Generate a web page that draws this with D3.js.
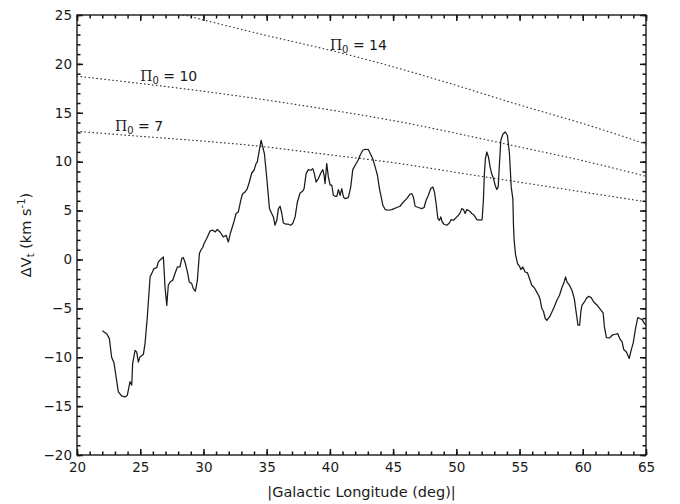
<!DOCTYPE html>
<html>
<head>
<meta charset="utf-8">
<script src="https://cdn.jsdelivr.net/npm/d3@7"></script>
<style>
  html, body { margin: 0; padding: 0; background: #fff; }
  svg text { font-family: "DejaVu Sans", sans-serif; fill: #1a1a1a; }
</style>
</head>
<body>
<div id="page"></div>
<script>
(function() {

  "use strict";

  // measured profile: |galactic longitude| (deg) and delta V_t (km/s)
  var lon = [
    22.0, 22.35, 22.56, 22.74, 22.93, 23.09, 23.27, 23.53, 23.8, 23.98,
    24.19, 24.33, 24.4, 24.59, 24.72, 24.85, 24.98, 25.25, 25.38, 25.56,
    25.78, 25.91, 26.09, 26.31, 26.43, 26.62, 26.83, 26.96, 27.1, 27.22,
    27.36, 27.57, 27.75, 27.94, 28.15, 28.28, 28.4, 28.54, 28.73, 28.88,
    29.07, 29.2, 29.36, 29.52, 29.68, 29.79, 29.94, 30.05, 30.26, 30.52,
    30.74, 30.92, 31.1, 31.31, 31.57, 31.79, 31.97, 32.16, 32.37, 32.58,
    32.76, 32.95, 33.08, 33.29, 33.47, 33.63, 33.82, 34.0, 34.16, 34.26,
    34.42, 34.56, 34.69, 34.82, 34.95, 35.06, 35.22, 35.4, 35.53, 35.66,
    35.8, 35.93, 36.06, 36.2, 36.32, 36.53, 36.72, 36.9, 37.06, 37.25,
    37.43, 37.64, 37.86, 37.96, 38.12, 38.3, 38.49, 38.65, 38.77, 38.91,
    39.09, 39.28, 39.44, 39.54, 39.62, 39.75, 39.88, 40.02, 40.15, 40.28,
    40.41, 40.55, 40.67, 40.81, 40.94, 41.07, 41.2, 41.46, 41.65, 41.81,
    42.0, 42.25, 42.39, 42.6, 42.78, 43.04, 43.2, 43.39, 43.58, 43.76,
    43.92, 44.03, 44.19, 44.37, 44.63, 44.9, 45.08, 45.29, 45.55, 45.81,
    46.08, 46.34, 46.47, 46.6, 46.74, 47.0, 47.27, 47.45, 47.61, 47.79,
    47.98, 48.14, 48.27, 48.4, 48.54, 48.66, 48.77, 48.88, 49.03, 49.25,
    49.45, 49.59, 49.77, 49.98, 50.17, 50.3, 50.43, 50.56, 50.7, 50.83,
    51.04, 51.22, 51.41, 51.62, 51.88, 52.04, 52.14, 52.22, 52.3, 52.41,
    52.54, 52.67, 52.81, 52.94, 53.07, 53.2, 53.31, 53.41, 53.52, 53.68,
    53.86, 54.04, 54.2, 54.34, 54.47, 54.52, 54.57, 54.68, 54.84, 55.0,
    55.1, 55.26, 55.44, 55.63, 55.78, 55.97, 56.15, 56.31, 56.5, 56.63,
    56.76, 56.89, 57.03, 57.16, 57.37, 57.56, 57.74, 57.95, 58.16, 58.35,
    58.53, 58.64, 58.75, 58.95, 59.14, 59.33, 59.49, 59.62, 59.75, 59.86,
    59.94, 60.13, 60.28, 60.47, 60.66, 60.87, 61.14, 61.34, 61.61, 61.71,
    61.87, 62.13, 62.32, 62.58, 62.76, 62.92, 63.11, 63.24, 63.45, 63.67,
    63.83, 63.99, 64.17, 64.35, 64.51, 64.7, 64.88, 65.0
  ];

  var dv = [
    -7.3, -7.6, -8.1, -10.0, -10.6, -12.0, -13.55, -13.96, -14.06, -13.9,
    -12.5, -12.86, -10.65, -9.3, -9.46, -10.5, -9.97, -9.7, -8.6, -5.9,
    -1.8, -1.44, -0.93, -0.83, -0.26, 0.0, 0.26, -2.8, -4.7, -2.64,
    -2.3, -2.13, -1.44, -0.77, -0.77, 0.09, 0.2, -0.26, -1.28, -2.3,
    -2.47, -2.98, -3.25, -2.13, 0.6, 0.94, 1.22, 1.63, 2.14, 2.92,
    2.99, 2.81, 3.06, 2.81, 2.3, 2.47, 1.79, 2.81, 3.67, 4.7,
    4.86, 6.05, 6.67, 6.9, 7.25, 7.92, 8.84, 9.12, 9.8, 9.97,
    11.17, 12.19, 11.5, 10.83, 9.12, 7.59, 5.2, 4.7, 4.35, 3.5,
    4.0, 5.2, 5.44, 4.7, 3.73, 3.6, 3.6, 3.5, 3.67, 4.35,
    5.88, 6.8, 7.0, 7.25, 8.78, 9.19, 9.12, 9.29, 8.78, 7.92,
    8.27, 8.84, 9.19, 8.61, 7.76, 9.8, 8.44, 7.59, 7.59, 6.56,
    6.46, 6.46, 7.15, 6.56, 7.25, 6.39, 6.22, 6.32, 7.42, 9.19,
    9.63, 10.2, 10.65, 11.17, 11.27, 11.24, 10.8, 10.3, 9.46, 8.61,
    7.25, 6.56, 5.54, 5.1, 5.03, 5.1, 5.2, 5.31, 5.44, 5.88,
    6.22, 6.67, 6.74, 6.39, 5.44, 5.31, 5.2, 5.31, 6.05, 6.56,
    7.25, 7.42, 6.9, 5.72, 4.18, 4.01, 4.35, 3.83, 3.6, 3.5,
    3.73, 4.08, 4.01, 4.28, 4.52, 4.76, 5.2, 5.1, 4.7, 5.1,
    4.96, 4.7, 4.52, 4.08, 4.01, 4.08, 6.05, 8.78, 10.32, 10.99,
    10.48, 9.46, 8.71, 8.27, 7.59, 7.15, 7.42, 9.8, 12.19, 12.8,
    13.04, 12.7, 10.83, 7.42, 6.2, 3.5, 2.0, 0.5, -0.42, -0.7,
    -1.03, -0.77, -1.28, -1.38, -1.95, -2.64, -2.87, -3.22, -3.66, -4.1,
    -5.02, -5.3, -6.04, -6.22, -5.88, -5.37, -4.86, -4.17, -3.66, -2.87,
    -2.3, -1.79, -2.3, -2.64, -3.15, -4.0, -5.53, -6.73, -6.73, -5.2,
    -4.68, -4.35, -4.0, -3.77, -3.9, -4.35, -4.68, -5.02, -5.47, -6.9,
    -7.99, -8.03, -7.75, -7.65, -7.58, -8.09, -8.44, -9.21, -9.46, -10.13,
    -9.28, -8.54, -7.07, -5.94, -6.04, -6.15, -6.56, -6.7
  ];

  // model curves for three values of Pi_0
  var model_lon = [ 20, 25, 30, 35, 40, 45, 50, 55, 60, 65 ];
  var pi7  = [ 13.1, 12.6, 12.1, 11.5, 10.7, 9.9, 8.9, 7.9, 6.9, 5.9 ];
  var pi10 = [ 18.75, 18.0, 17.2, 16.3, 15.3, 14.2, 12.9, 11.5, 10.1, 8.5 ];
  var pi14 = [ 27.0, 26.0, 24.5, 22.9, 21.4, 19.7, 17.8, 15.8, 13.9, 11.8 ];

  var pi_names = [ "7", "10", "14" ];
  var label_lon = [ 23.0, 25.0, 40.0 ];
  var label_dv = [ 13.1, 18.3, 21.4 ];

  var x_ticks = [ 20, 25, 30, 35, 40, 45, 50, 55, 60, 65 ];
  var y_ticks = [ -20, -15, -10, -5, 0, 5, 10, 15, 20, 25 ];

  /* * * * * * * * * * * * * * * * * * * */

  var w = 680,
    h = 504,
    left = 77,
    right = 646,
    top = 15,
    bottom = 455;

  var svg = d3.select( "#page" ).append( "svg" )
    .attr( "width", w )
    .attr( "height", h );

  svg.append( "rect" )
    .attr( "width", w )
    .attr( "height", h )
    .attr( "fill", "#fff" );

  var x = d3.scaleLinear().domain( [ 20, 65 ] ).range( [ left, right ] );
  var y = d3.scaleLinear().domain( [ -20, 25 ] ).range( [ bottom, top ] );

  svg.append( "clipPath" )
    .attr( "id", "plot-clip" )
    .append( "rect" )
    .attr( "x", left )
    .attr( "y", top )
    .attr( "width", right - left )
    .attr( "height", bottom - top );

  var plot = svg.append( "g" ).attr( "clip-path", "url(#plot-clip)" );

  /* * * * * * * * * * * * * * * * * * * */

  var models = [ pi7, pi10, pi14 ];

  var model_line = d3.line()
    .x( function( d ) { return x( d[0] ); } )
    .y( function( d ) { return y( d[1] ); } )
    .curve( d3.curveNatural );

  models.forEach( function( vals ) {
    plot.append( "path" )
      .datum( d3.zip( model_lon, vals ) )
      .attr( "d", model_line )
      .attr( "fill", "none" )
      .attr( "stroke", "#333" )
      .attr( "stroke-width", 1.2 )
      .attr( "stroke-linecap", "round" )
      .attr( "stroke-dasharray", "0.6,3.4" );
  });

  var data_line = d3.line()
    .x( function( d ) { return x( d[0] ); } )
    .y( function( d ) { return y( d[1] ); } );

  plot.append( "path" )
    .datum( d3.zip( lon, dv ) )
    .attr( "d", data_line )
    .attr( "fill", "none" )
    .attr( "stroke", "#1a1a1a" )
    .attr( "stroke-width", 1.25 )
    .attr( "stroke-linejoin", "round" );

  /* * * * * * * * * * * * * * * * * * * */

  // Pi_0 labels
  pi_names.forEach( function( name, i ) {
    var t = svg.append( "text" )
      .attr( "x", x( label_lon[i] ) )
      .attr( "y", y( label_dv[i] ) )
      .attr( "font-size", 14 );
    t.append( "tspan" )
      .style( "font-family", "'DejaVu Serif', serif" )
      .text( "\u03A0" );
    t.append( "tspan" )
      .attr( "font-size", 10 )
      .attr( "dy", 3 )
      .text( "0" );
    t.append( "tspan" )
      .attr( "dy", -3 )
      .text( " = " + name );
  });

  /* * * * * * * * * * * * * * * * * * * */

  var x_minor = d3.range( 20, 66, 1 );
  var y_minor = d3.range( -20, 26, 1 );

  function style_axis( g ) {
    g.select( ".domain" ).remove();
    g.selectAll( "line" ).attr( "stroke", "#111" ).attr( "stroke-width", 1.5 );
    g.selectAll( "text" )
      .attr( "fill", "#1a1a1a" )
      .style( "font-family", "'DejaVu Sans', sans-serif" )
      .style( "font-size", "13.5px" );
  }

  function add_axis( pos, axis ) {
    svg.append( "g" ).attr( "transform", pos ).call( axis ).call( style_axis );
  }

  var at_bottom = "translate(0," + bottom + ")",
    at_top = "translate(0," + top + ")",
    at_left = "translate(" + left + ",0)",
    at_right = "translate(" + right + ",0)";

  add_axis( at_bottom, d3.axisBottom( x ).tickValues( x_minor ).tickSize( -3.5 ).tickFormat( "" ) );
  add_axis( at_bottom, d3.axisBottom( x ).tickValues( x_ticks ).tickSize( -6 ).tickPadding( 7 ).tickFormat( d3.format( "d" ) ) );
  add_axis( at_top, d3.axisTop( x ).tickValues( x_minor ).tickSize( -3.5 ).tickFormat( "" ) );
  add_axis( at_top, d3.axisTop( x ).tickValues( x_ticks ).tickSize( -6 ).tickFormat( "" ) );
  add_axis( at_left, d3.axisLeft( y ).tickValues( y_minor ).tickSize( -3.5 ).tickFormat( "" ) );
  add_axis( at_left, d3.axisLeft( y ).tickValues( y_ticks ).tickSize( -6 ).tickPadding( 5 ).tickFormat( d3.format( "d" ) ) );
  add_axis( at_right, d3.axisRight( y ).tickValues( y_minor ).tickSize( -3.5 ).tickFormat( "" ) );
  add_axis( at_right, d3.axisRight( y ).tickValues( y_ticks ).tickSize( -6 ).tickFormat( "" ) );

  svg.append( "rect" )
    .attr( "x", left )
    .attr( "y", top )
    .attr( "width", right - left )
    .attr( "height", bottom - top )
    .attr( "fill", "none" )
    .attr( "stroke", "#1a1a1a" )
    .attr( "stroke-width", 1.4 );

  /* * * * * * * * * * * * * * * * * * * */

  svg.append( "text" )
    .attr( "x", ( left + right ) / 2 )
    .attr( "y", 497 )
    .attr( "text-anchor", "middle" )
    .attr( "font-size", 14.5 )
    .text( "|Galactic Longitude (deg)|" );

  var ylab = svg.append( "text" )
    .attr( "transform", "translate(31," + ( ( top + bottom ) / 2 ) + ") rotate(-90)" )
    .attr( "text-anchor", "middle" )
    .attr( "font-size", 14.5 );
  ylab.append( "tspan" ).text( "\u0394V" );
  ylab.append( "tspan" ).attr( "font-size", 10 ).attr( "dy", 3 ).text( "t" );
  ylab.append( "tspan" ).attr( "dy", -3 ).text( " (km s" );
  ylab.append( "tspan" ).attr( "font-size", 10 ).attr( "dy", -6 ).text( "-1" );
  ylab.append( "tspan" ).attr( "dy", 6 ).text( ")" );

})();
</script>
</body>
</html>
